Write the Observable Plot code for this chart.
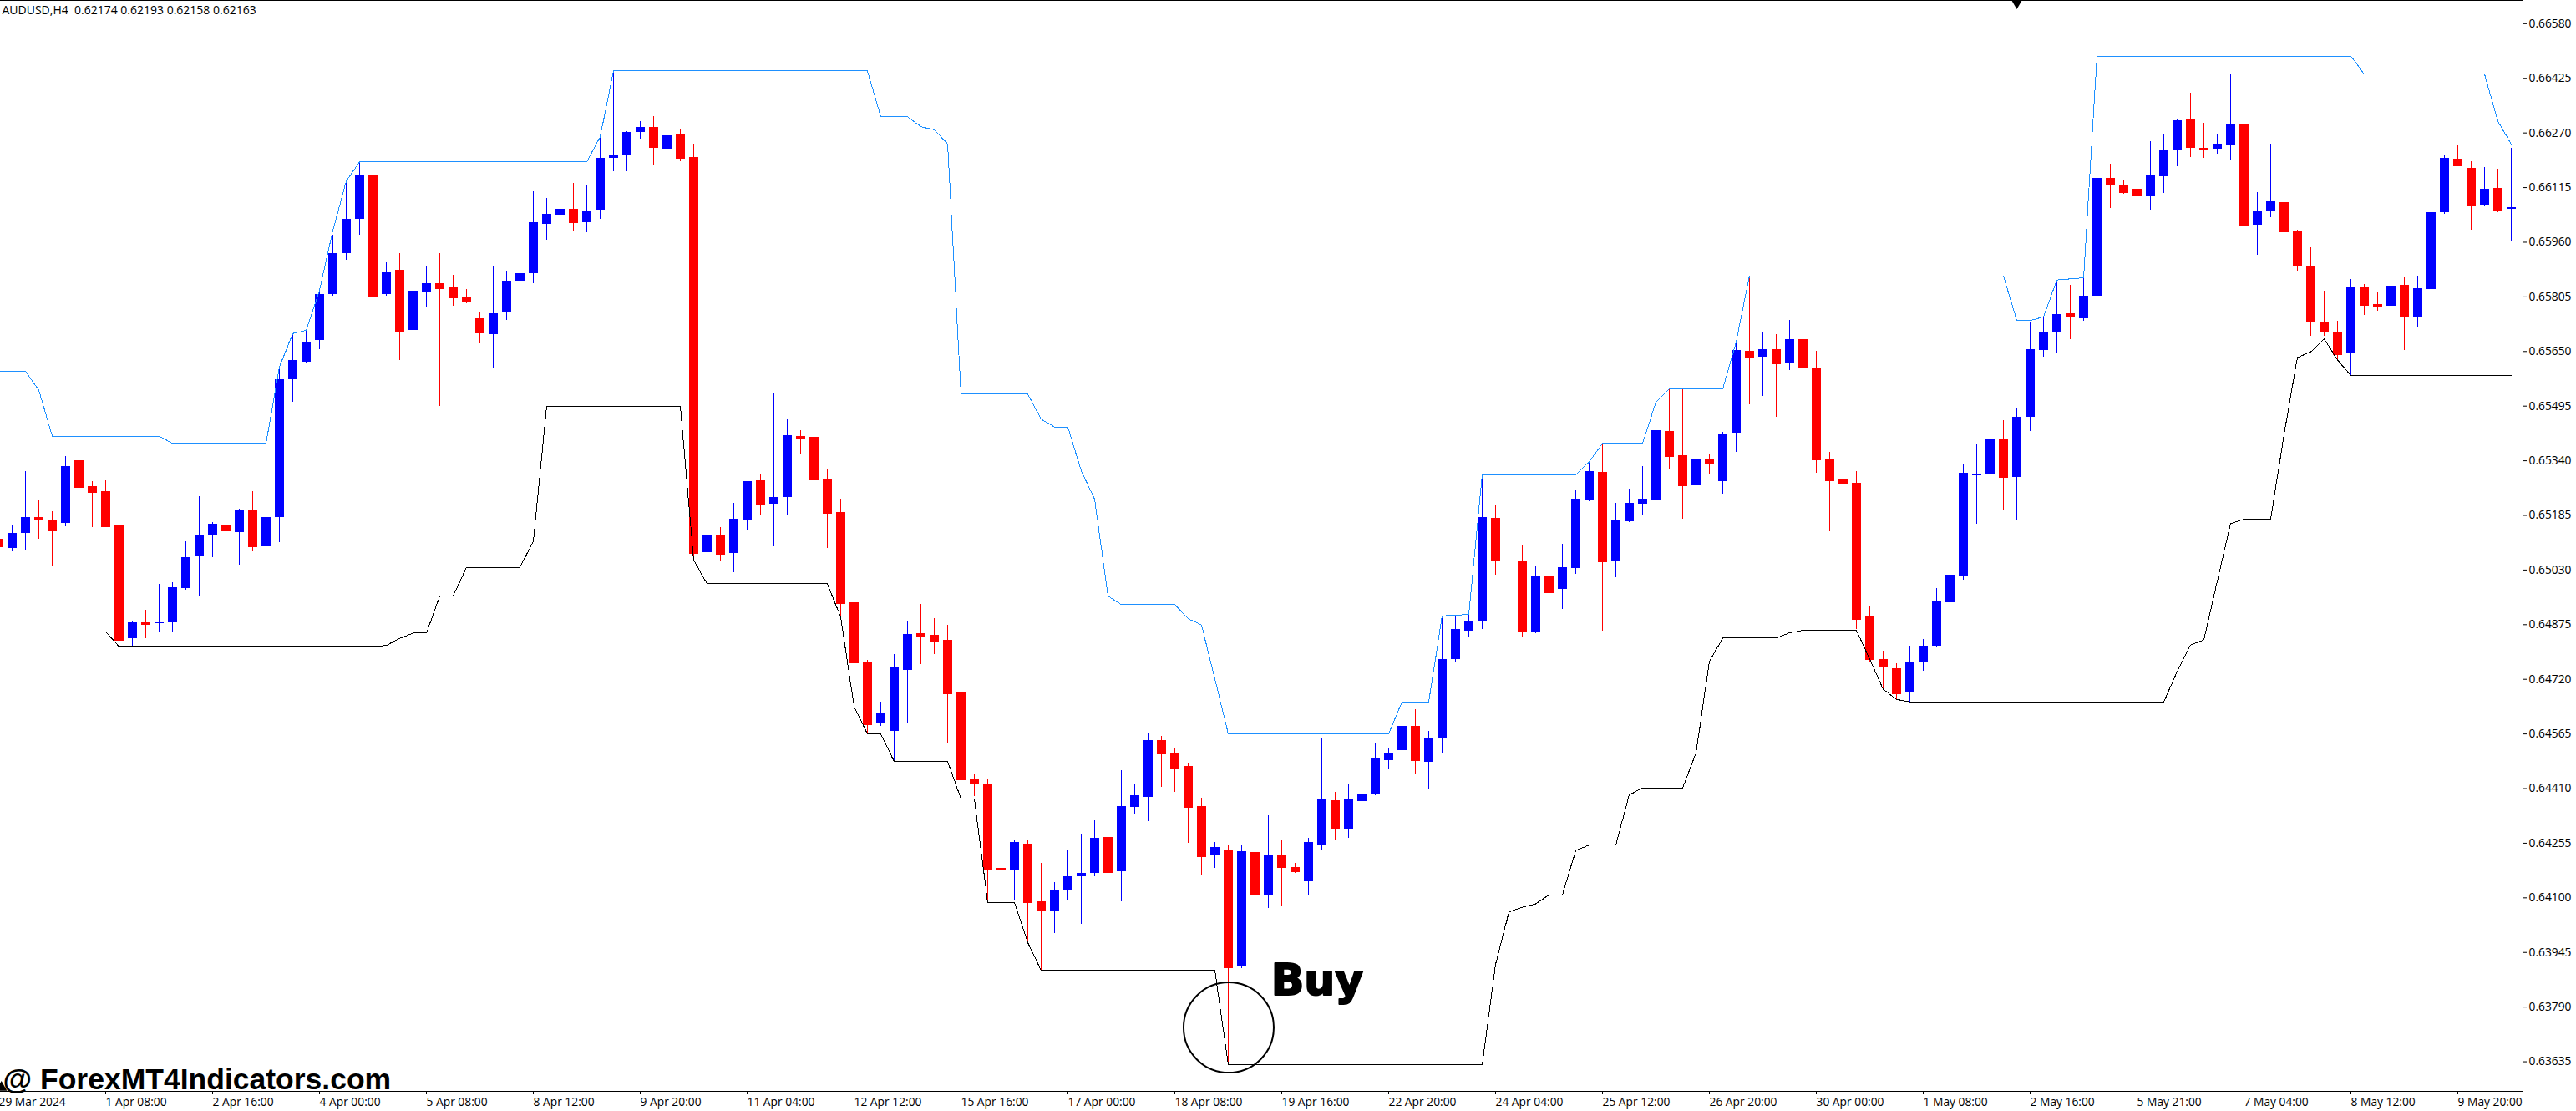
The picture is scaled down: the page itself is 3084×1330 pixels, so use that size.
<!DOCTYPE html>
<html><head><meta charset="utf-8">
<script src="https://cdn.jsdelivr.net/npm/d3@7"></script>
<script src="https://cdn.jsdelivr.net/npm/@observablehq/plot@0.6"></script>
<style>html,body{margin:0;padding:0;background:#fff}svg{display:block}svg text{white-space:pre}</style>
</head><body><div id="chart"></div>
<script>
// Prices are in points (1 point = 0.00001). Bars are numbered from -1.
const opens=[65117,65092,65134,65179,65172,65163,65340,65267,65253,65158,64835,64881,64878,64880,64978,65067,65129,65158,65136,65200,65095,65178,65571,65621,65682,65811,65927,66025,66148,65811,65881,65709,65818,65843,65834,65805,65743,65699,65759,65850,65872,66012,66038,66054,66015,66050,66197,66206,66272,66286,66224,66265,66201,65079,65129,65078,65172,65283,65217,65235,65408,65407,65286,65193,64937,64769,64593,64572,64745,64849,64845,64831,64681,64437,64420,64184,64177,64253,64088,64063,64123,64160,64170,64271,64174,64357,64385,64546,64509,64472,64358,64219,64233,63905,64229,64109,64222,64185,64146,64250,64375,64296,64373,64395,64489,64518,64587,64484,64551,64777,64857,64883,65177,65055,65056,64852,65011,64975,65034,65229,65308,65054,65167,65217,65229,65424,65355,65269,65343,65281,65419,65651,65634,65656,65615,65684,65604,65343,65288,65276,64898,64777,64750,64681,64767,64814,64938,65011,65299,65300,65399,65294,65463,65653,65702,65758,65743,65807,66141,66122,66110,66088,66147,66219,66307,66227,66223,66235,66295,66008,66046,66072,65989,65890,65733,65704,65644,65831,65784,65778,65838,65747,65826,66045,66196,66170,66064,66113,66053];
const highs=[65123,65155,65310,65227,65195,65352,65390,65281,65283,65194,64886,64916,64990,64995,65111,65239,65164,65217,65203,65253,65189,65606,65697,65713,65821,65981,66132,66187,66182,65902,65928,65838,65890,65928,65866,65826,65760,65893,65878,65913,66103,66084,66083,66127,66120,66259,66447,66274,66303,66317,66288,66279,66238,65226,65150,65219,65282,65302,65529,65459,65425,65438,65314,65231,64956,64774,64655,64790,64885,64932,64892,64873,64712,64448,64437,64288,64264,64261,64198,64143,64237,64282,64320,64374,64461,64420,64565,64558,64523,64479,64382,64257,64250,64250,64237,64333,64261,64198,64268,64554,64399,64424,64444,64540,64525,64653,64634,64572,64895,64900,64904,65286,65212,65086,65098,65039,65013,65103,65254,65332,65389,65219,65259,65323,65506,65545,65545,65402,65357,65420,65675,65860,65703,65698,65738,65696,65651,65364,65367,65310,64925,64800,64765,64814,64834,64977,65402,65330,65387,65490,65454,65486,65733,65748,65853,65838,65859,66469,66182,66136,66180,66246,66265,66307,66384,66298,66265,66438,66305,66101,66238,66117,65995,65944,65822,65736,65854,65841,65819,65867,65860,65861,66125,66208,66234,66189,66173,66167,66227];
const lows=[65086,65083,65085,65118,65042,65154,65179,65150,65150,64813,64814,64835,64853,64851,64972,64956,65066,65129,65045,65083,65038,65109,65507,65614,65655,65807,65910,65979,65796,65806,65624,65680,65773,65495,65778,65785,65673,65600,65739,65780,65842,65967,66022,65991,65988,66026,66161,66161,66252,66176,66196,66189,65065,64991,65055,65022,65143,65183,65096,65186,65356,65264,65091,64897,64641,64565,64586,64489,64596,64762,64790,64539,64381,64388,64087,64119,64092,63973,63894,63998,64094,64026,64160,64157,64088,64337,64316,64413,64399,64254,64164,64184,63626,63900,64057,64070,64078,64170,64105,64233,64264,64269,64248,64390,64464,64499,64452,64409,64508,64770,64840,64861,65016,64977,64837,64849,64947,64918,65017,65224,64857,65009,65165,65184,65212,65314,65175,65254,65300,65246,65364,65499,65523,65463,65596,65600,65305,65138,65239,64861,64770,64692,64663,64656,64743,64810,64829,65002,65160,65286,65200,65173,65422,65633,65646,65684,65735,65792,66057,66097,66020,66052,66099,66174,66200,66197,66209,66190,65871,65924,66030,65883,65879,65694,65694,65623,65582,65752,65765,65698,65653,65720,65820,66040,66174,65995,66060,66045,65963];
const closes=[65095,65135,65179,65171,65140,65323,65265,65250,65153,64831,64881,64875,64881,64980,65066,65130,65160,65140,65200,65097,65179,65570,65624,65676,65812,65928,66025,66148,65808,65873,65707,65821,65843,65828,65803,65791,65702,65757,65849,65871,66016,66039,66054,66015,66049,66199,66207,66271,66286,66228,66262,66198,65078,65127,65075,65174,65280,65217,65235,65411,65401,65286,65190,64935,64766,64591,64622,64752,64847,64842,64828,64679,64434,64423,64178,64178,64257,64087,64064,64122,64161,64170,64268,64171,64358,64389,64546,64509,64468,64357,64216,64243,63901,64230,64109,64219,64185,64175,64257,64378,64298,64378,64392,64494,64511,64587,64489,64551,64777,64861,64886,65179,65056,65055,64854,65014,64965,65037,65231,65310,65054,65170,65219,65231,65426,65352,65269,65345,65333,65414,65653,65634,65656,65615,65684,65606,65343,65283,65274,64890,64777,64757,64679,64767,64814,64942,65016,65305,65300,65399,65294,65464,65656,65705,65755,65747,65807,66141,66124,66101,66091,66151,66219,66305,66228,66222,66238,66295,66008,66046,66075,65990,65893,65735,65704,65641,65831,65782,65778,65835,65747,65829,66044,66199,66177,66064,66110,66050,66058];

const upperBars=[-1,1,2,3,11,12,19,20,21,22,23,24,25,26,43,44,45,64,65,67,68,69,70,71,76,77,78,79,80,81,82,83,87,88,89,90,91,103,104,106,107,109,110,117,118,119,122,123,124,128,129,130,149,150,151,152,153,155,156,175,176,185,186,187];
const upperVals=[65594,65594,65540,65410,65410,65389,65389,65606,65701,65710,65824,65993,66133,66188,66188,66259,66446,66446,66316,66316,66288,66279,66239,65529,65529,65458,65436,65436,65311,65231,64956,64932,64932,64892,64874,64721,64565,64565,64656,64656,64900,64904,65300,65300,65337,65389,65389,65506,65544,65544,65677,65865,65865,65738,65738,65748,65853,65859,66488,66488,66437,66437,66303,66238];
const lowerBars=[-1,7,8,27,28,29,30,31,32,33,34,38,39,40,50,51,52,61,62,63,64,65,66,70,71,72,73,75,76,77,90,91,110,111,112,113,114,115,116,117,118,120,121,122,125,126,127,128,132,133,134,138,139,140,141,142,161,162,163,164,165,166,167,169,170,171,172,173,174,175,187];
const lowerVals=[64855,64855,64813,64813,64816,64836,64851,64851,64956,64956,65038,65038,65111,65495,65495,65058,64991,64991,64897,64643,64565,64565,64487,64487,64381,64381,64087,64087,63973,63894,63894,63626,63626,63911,64060,64073,64083,64108,64108,64234,64250,64250,64392,64412,64412,64511,64771,64837,64837,64852,64859,64859,64777,64692,64663,64656,64656,64742,64817,64832,64998,65162,65174,65174,65415,65633,65649,65686,65626,65582,65582];

const yTicks=[66580,66425,66270,66115,65960,65805,65650,65495,65340,65185,65030,64875,64720,64565,64410,64255,64100,63945,63790,63635];
const xTickBars=[-1,7,15,23,31,39,47,55,63,71,79,87,95,103,111,119,127,135,143,151,159,167,175,183];
const xTickLabels=["29 Mar 2024","1 Apr 08:00","2 Apr 16:00","4 Apr 00:00","5 Apr 08:00","8 Apr 12:00","9 Apr 20:00","11 Apr 04:00","12 Apr 12:00","15 Apr 16:00","17 Apr 00:00","18 Apr 08:00","19 Apr 16:00","22 Apr 20:00","24 Apr 04:00","25 Apr 12:00","26 Apr 20:00","30 Apr 00:00","1 May 08:00","2 May 16:00","5 May 21:00","7 May 04:00","8 May 12:00","9 May 20:00"];

const headline="AUDUSD,H4  0.62174 0.62193 0.62158 0.62163";
const watermark="@ ForexMT4Indicators.com";
const signal=[{bar:94.2,price:63824,text:"Buy"}];
const signalRing=[{bar:91.03,price:63732}];
const shiftMarker=[{bar:150,price:66643}];
const cornerMarker=[{bar:-0.8,price:63562}];
const domainX=[-0.875,187.875], domainY=[63551,66646];

const bars=opens.map((o,k)=>({bar:k-1,o,h:highs[k],l:lows[k],c:closes[k],
  colour:closes[k]>o?"#0000ff":closes[k]<o?"#ff0000":"#000000"}));
const upper=upperBars.map((bar,k)=>({bar,v:upperVals[k]}));
const lower=lowerBars.map((bar,k)=>({bar,v:lowerVals[k]}));
const half=5.5/16;

const chart=Plot.plot({
  width:3084,height:1330,marginLeft:0,marginRight:64,marginTop:0,marginBottom:24,
  style:{background:"#fff",fontFamily:"'Open Sans'",fontSize:"13.8px",color:"#000"},
  x:{domain:domainX},y:{domain:domainY},color:{type:"identity"},
  marks:[
    Plot.ruleX(bars,{x:"bar",y1:"l",y2:"h",stroke:"colour",strokeWidth:1,shapeRendering:"crispEdges"}),
    Plot.ruleX(bars,{x:"bar",y1:"o",y2:"c",stroke:"colour",strokeWidth:11,shapeRendering:"crispEdges"}),
    Plot.ruleY(bars,{y:"c",x1:d=>d.bar-half,x2:d=>d.bar+half,stroke:"colour",strokeWidth:1,shapeRendering:"crispEdges"}),
    Plot.line(upper,{x:"bar",y:"v",stroke:"#1e90ff",strokeWidth:1,shapeRendering:"crispEdges"}),
    Plot.line(lower,{x:"bar",y:"v",stroke:"#000",strokeWidth:1,shapeRendering:"crispEdges"}),
    Plot.dot(signalRing,{x:"bar",y:"price",r:54,fill:"none",stroke:"#000",strokeWidth:2}),
    Plot.text(signal,{x:"bar",y:"price",text:"text",fontSize:52,fontWeight:900,fontFamily:"'DejaVu Sans'",textAnchor:"start",lineAnchor:"bottom",fill:"#000",stroke:"#000",strokeWidth:2}),
    Plot.text([watermark],{frameAnchor:"bottom-left",dx:3,dy:-3,lineAnchor:"bottom",fontSize:35.5,fontWeight:700,fontFamily:"'Liberation Sans'",fill:"#000"}),
    Plot.text([headline],{frameAnchor:"top-left",dx:2,dy:7,lineAnchor:"top",fontSize:14,fill:"#000"}),
    Plot.dot(shiftMarker,{x:"bar",y:"price",symbol:"triangle",r:6,rotate:180,fill:"#000"}),
    Plot.dot(cornerMarker,{x:"bar",y:"price",symbol:"triangle",r:5,fill:"#000"}),
    Plot.ruleY(domainY,{stroke:"#000",strokeWidth:1,shapeRendering:"crispEdges"}),
    Plot.ruleX([domainX[1]],{stroke:"#000",strokeWidth:1,shapeRendering:"crispEdges"}),
    Plot.axisY({anchor:"right",ticks:yTicks,tickFormat:d=>(d/1e5).toFixed(5),tickSize:4,tickPadding:3,label:null,fill:"#000",stroke:"#000"}),
    Plot.axisX({anchor:"bottom",ticks:xTickBars,tickFormat:d=>xTickLabels[xTickBars.indexOf(d)],tickSize:4,tickPadding:4,textAnchor:"start",label:null,fill:"#000",stroke:"#000"})
  ]
});
document.getElementById("chart").append(chart);
</script></body></html>
